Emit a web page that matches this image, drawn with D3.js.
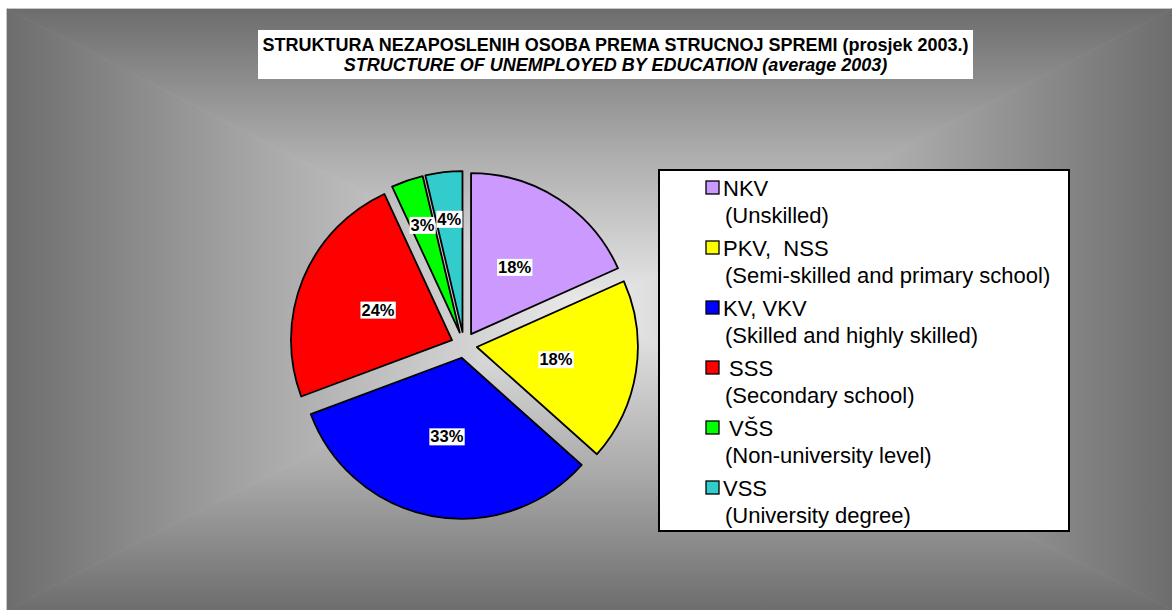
<!DOCTYPE html>
<html>
<head>
<meta charset="utf-8">
<script src="https://cdn.jsdelivr.net/npm/d3@7"></script>
<style>
  html, body { margin: 0; padding: 0; background: #fff; }
  svg { display: block; font-family: "Liberation Sans", Arial, sans-serif; }
</style>
</head>
<body>
<svg id="chart"></svg>
<script>
// data
const categories = ["NKV", "PKV,  NSS", "KV, VKV", " SSS", " VŠS", "VSS"];
const descriptions = [
  "(Unskilled)",
  "(Semi-skilled and primary school)",
  "(Skilled and highly skilled)",
  "(Secondary school)",
  "(Non-university level)",
  "(University degree)"
];
const shares = [18.3, 18.3, 32.7, 23.8, 3.2, 3.7];
const colors = ["#cc99ff", "#ffff00", "#0000ff", "#ff0000", "#00ff00", "#33cccc"];
const titleLines = [
  "STRUKTURA NEZAPOSLENIH OSOBA PREMA STRUCNOJ SPREMI (prosjek 2003.)",
  "STRUCTURE OF UNEMPLOYED BY EDUCATION (average 2003)"
];

(function () {
  const width = 1172;
  const height = 610;

  const svg = d3.select("#chart")
    .attr("width", width)
    .attr("height", height);

  const defs = svg.append("defs");

  // background: rectangular "from centre" gradient, built from 4 triangles
  const bg = { x0: 7, y0: 9, x1: width, y1: height };
  const cx = (bg.x0 + bg.x1) / 2;
  const cy = (bg.y0 + bg.y1) / 2;
  const sides = [
    { id: "gTop", pts: [[bg.x0, bg.y0], [bg.x1, bg.y0]], to: [cx, bg.y0] },
    { id: "gRight", pts: [[bg.x1, bg.y0], [bg.x1, bg.y1]], to: [bg.x1, cy] },
    { id: "gBottom", pts: [[bg.x1, bg.y1], [bg.x0, bg.y1]], to: [cx, bg.y1] },
    { id: "gLeft", pts: [[bg.x0, bg.y1], [bg.x0, bg.y0]], to: [bg.x0, cy] }
  ];
  sides.forEach(s => {
    const g = defs.append("linearGradient")
      .attr("id", s.id)
      .attr("gradientUnits", "userSpaceOnUse")
      .attr("x1", cx).attr("y1", cy)
      .attr("x2", s.to[0]).attr("y2", s.to[1]);
    g.append("stop").attr("offset", 0).attr("stop-color", "#ebebeb");
    g.append("stop").attr("offset", 0.55).attr("stop-color", "#a9a9a9");
    g.append("stop").attr("offset", 1).attr("stop-color", "#6d6d6d");
  });
  const bgGroup = svg.append("g");
  sides.forEach(s => {
    const p = [[cx, cy], s.pts[0], s.pts[1]];
    bgGroup.append("path")
      .attr("d", "M" + p.map(d => d.join(",")).join("L") + "Z")
      .attr("fill", `url(#${s.id})`)
      .attr("stroke", `url(#${s.id})`)
      .attr("stroke-width", 0.8);
  });

  // title
  const title = svg.append("g");
  title.append("rect")
    .attr("x", 258).attr("y", 30)
    .attr("width", 715).attr("height", 49)
    .attr("fill", "#fff");
  title.selectAll("text")
    .data(titleLines)
    .join("text")
    .attr("x", 615.5)
    .attr("y", (d, i) => 50.5 + i * 20.5)
    .attr("text-anchor", "middle")
    .attr("font-size", 18)
    .attr("font-weight", "bold")
    .attr("font-style", (d, i) => i === 1 ? "italic" : "normal")
    .text(d => d);

  // pie
  const pieCx = 464;
  const pieCy = 345;
  const radius = 161;
  const explode = 13;

  const pie = d3.pie().sort(null).value(d => d);
  const arcs = pie(shares);
  const arc = d3.arc().innerRadius(0).outerRadius(radius);
  const fmt = d3.format(".0%");

  const pieGroup = svg.append("g")
    .attr("transform", `translate(${pieCx},${pieCy})`);

  const slices = pieGroup.selectAll("g.slice")
    .data(arcs)
    .join("g")
    .attr("class", "slice")
    .attr("transform", d => {
      const a = (d.startAngle + d.endAngle) / 2;
      return `translate(${Math.sin(a) * explode},${-Math.cos(a) * explode})`;
    });

  slices.append("path")
    .attr("d", arc)
    .attr("fill", (d, i) => colors[i])
    .attr("stroke", "#000")
    .attr("stroke-width", 1.8)
    .attr("stroke-linejoin", "round");

  // percentage labels in white boxes
  const labels = slices.append("g")
    .attr("transform", d => {
      const a = (d.startAngle + d.endAngle) / 2;
      const share = (d.endAngle - d.startAngle) / (2 * Math.PI);
      const lr = share < 0.05 ? 114 : 80;
      return `translate(${Math.sin(a) * lr},${-Math.cos(a) * lr})`;
    });

  labels.append("text")
    .attr("text-anchor", "middle")
    .attr("dy", "0.36em")
    .attr("font-size", 16.5)
    .attr("font-weight", "bold")
    .attr("fill", "#000")
    .text(d => fmt(d.data / 100));

  labels.each(function () {
    const g = d3.select(this);
    const bb = g.select("text").node().getBBox();
    g.insert("rect", "text")
      .attr("x", bb.x - 1)
      .attr("y", bb.y + 1)
      .attr("width", bb.width + 2)
      .attr("height", bb.height - 1)
      .attr("fill", "#fff");
  });

  // legend
  const legend = svg.append("g");
  legend.append("rect")
    .attr("x", 659).attr("y", 170)
    .attr("width", 410).attr("height", 361)
    .attr("fill", "#fff")
    .attr("stroke", "#000")
    .attr("stroke-width", 2);

  const rowTop = 188;
  const rowPitch = 60;
  const lineGap = 27;

  const items = legend.selectAll("g.item")
    .data(categories)
    .join("g")
    .attr("class", "item")
    .attr("transform", (d, i) => `translate(0,${rowTop + i * rowPitch})`);

  items.append("rect")
    .attr("x", 706).attr("y", -7)
    .attr("width", 13).attr("height", 13)
    .attr("fill", (d, i) => colors[i])
    .attr("stroke", "#000")
    .attr("stroke-width", 1.3);

  items.append("text")
    .attr("x", 723)
    .attr("dy", "0.36em")
    .attr("font-size", 22)
    .style("white-space", "pre")
    .attr("xml:space", "preserve")
    .text(d => d);

  items.append("text")
    .attr("x", 725)
    .attr("y", lineGap)
    .attr("dy", "0.36em")
    .attr("font-size", 22)
    .text((d, i) => descriptions[i]);
})();
</script>
</body>
</html>
